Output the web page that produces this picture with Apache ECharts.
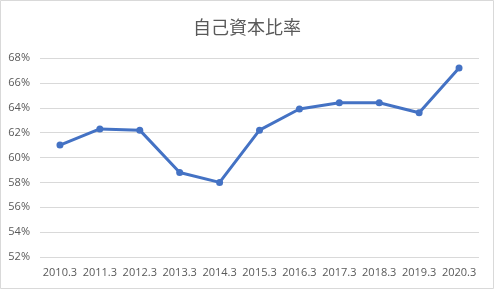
<!DOCTYPE html>
<html><head><meta charset="utf-8">
<script src="https://cdn.jsdelivr.net/npm/echarts@6/dist/echarts.min.js"></script>
<style>html,body{margin:0;padding:0;background:#fff}#c{width:494px;height:289px}</style>
</head><body><div id="c"></div>
<script>
const title = '自己資本比率';
const categories = ['2010.3','2011.3','2012.3','2013.3','2014.3','2015.3','2016.3','2017.3','2018.3','2019.3','2020.3'];
const values = [61.0, 62.3, 62.2, 58.8, 58.0, 62.2, 63.9, 64.4, 64.4, 63.6, 67.2];
const yMin = 52, yMax = 68, yStep = 2;

const chart = echarts.init(document.getElementById('c'), null, {renderer:'canvas'});
chart.setOption({
  animation:false,
  backgroundColor:'#fff',
  graphic:[{type:'rect',shape:{x:0.5,y:0.5,width:493,height:288},style:{fill:'none',stroke:'#d9d9d9',lineWidth:1},silent:true}],
  title:{text:title,left:'center',top:13,textStyle:{fontFamily:'Noto Sans CJK JP',fontSize:18,fontWeight:'normal',color:'#595959'}},
  grid:{left:40,right:15,top:58,bottom:32},
  xAxis:{type:'category',data:categories,boundaryGap:true,
    axisLine:{show:false},axisTick:{show:false},
    axisLabel:{color:'#595959',fontSize:11,fontFamily:'Open Sans',margin:10,interval:0}},
  yAxis:{type:'value',min:yMin,max:yMax,interval:yStep,
    axisLine:{show:false},axisTick:{show:false},
    splitLine:{lineStyle:{color:'#d9d9d9',width:1}},
    axisLabel:{color:'#595959',fontSize:11,fontFamily:'Open Sans',formatter:'{value}%',margin:10}},
  series:[{type:'line',data:values,symbol:'circle',symbolSize:7,
    lineStyle:{color:'#4472C4',width:3},itemStyle:{color:'#4472C4'}}]
});
</script></body></html>
